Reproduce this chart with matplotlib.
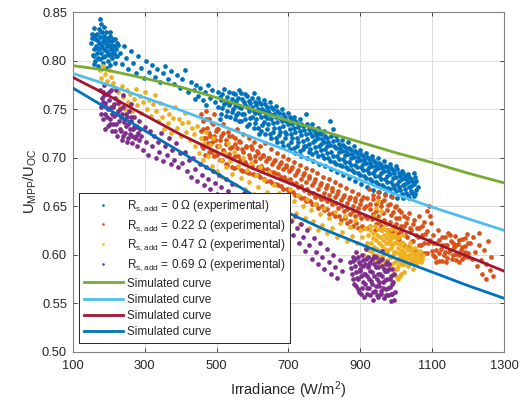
import matplotlib
matplotlib.use("Agg")
import matplotlib.pyplot as plt

plt.rcParams['font.family'] = ['Liberation Sans', 'DejaVu Sans']
plt.rcParams['mathtext.default'] = 'regular'

# ---------------- data ----------------
curve_x = [100, 200, 300, 400, 500, 600, 700, 800, 900, 1000, 1100, 1200, 1300]
sim_green = [0.795, 0.790, 0.782, 0.773, 0.762, 0.750, 0.738, 0.727, 0.716, 0.705, 0.695, 0.684, 0.674]
sim_lightblue = [0.787, 0.775, 0.762, 0.749, 0.735, 0.721, 0.707, 0.692, 0.677, 0.662, 0.649, 0.637, 0.625]
sim_red = [0.783, 0.764, 0.744, 0.724, 0.706, 0.689, 0.674, 0.659, 0.643, 0.628, 0.613, 0.598, 0.583]
sim_blue = [0.772, 0.750, 0.728, 0.706, 0.684, 0.662, 0.643, 0.626, 0.611, 0.596, 0.582, 0.568, 0.555]

exp_0 = [
    (152,0.818),(155,0.828),(156,0.806),(158,0.812),(160,0.834),(162,0.822),(163,0.800),(165,0.815),
    (167,0.828),(168,0.808),(170,0.820),(172,0.833),(173,0.812),(175,0.802),(176,0.843),(177,0.825),
    (179,0.816),(180,0.808),(182,0.830),(184,0.820),(185,0.798),(187,0.812),(188,0.826),(190,0.805),
    (192,0.818),(193,0.830),(195,0.810),(197,0.800),(198,0.822),(200,0.815),(202,0.806),(204,0.826),
    (205,0.796),(207,0.812),(209,0.820),(210,0.803),(212,0.815),(215,0.808),(217,0.822),(219,0.798),
    (221,0.812),(224,0.805),(226,0.816),(160,0.797),(170,0.795),(178,0.838),(188,0.835),(195,0.793),
    (154,0.823),(159,0.805),(163,0.827),(166,0.822),(169,0.813),(171,0.803),(174,0.818),(178,0.830),
    (181,0.814),(183,0.804),(186,0.822),(189,0.818),(191,0.811),(194,0.824),(196,0.815),(199,0.808),
    (201,0.820),(203,0.830),(206,0.816),(208,0.807),(211,0.822),(213,0.810),(216,0.815),(220,0.805),
    (223,0.818),
    (232,0.808),(238,0.797),(242,0.815),(248,0.803),(255,0.792),(262,0.810),(268,0.798),(275,0.787),
    (282,0.805),(290,0.793),(298,0.782),(305,0.800),(312,0.788),(320,0.796),(328,0.783),(335,0.792),
    (342,0.778),(350,0.787),(358,0.795),(366,0.781),(374,0.789),(382,0.776),(390,0.785),(398,0.772),
    (405,0.781),(413,0.790),(420,0.768),(428,0.778),(436,0.770),(442,0.775),(448,0.764),(455,0.772),
    (462,0.760),(468,0.768),(475,0.775),(482,0.762),(488,0.770),(495,0.757),(440,0.761),(470,0.754),
    (505,0.768),(505,0.752),(512,0.760),(512,0.745),(520,0.771),(520,0.755),(530,0.748),(530,0.763),
    (538,0.756),(538,0.742),(546,0.767),(546,0.750),(555,0.744),(555,0.759),(563,0.752),(563,0.738),
    (563,0.770),(572,0.761),(572,0.745),(580,0.740),(580,0.754),(580,0.766),(590,0.748),(590,0.735),
    (590,0.759),(598,0.762),(598,0.742),(598,0.752),(607,0.736),(607,0.757),(607,0.746),(615,0.750),
    (615,0.731),(615,0.762),(623,0.742),(623,0.755),(623,0.728),(632,0.748),(632,0.737),(632,0.760),
    (640,0.730),(640,0.752),(640,0.741),(648,0.745),(648,0.724),(648,0.757),(657,0.736),(657,0.750),
    (657,0.727),(665,0.742),(665,0.720),(665,0.753),(673,0.731),(673,0.746),(673,0.723),(682,0.738),
    (682,0.716),(682,0.750),(690,0.727),(690,0.742),(690,0.720),(698,0.735),(698,0.713),(698,0.746),
    (707,0.724),(707,0.739),(707,0.716),(715,0.731),(715,0.710),(715,0.742),(723,0.720),(723,0.736),
    (723,0.712),(732,0.728),(732,0.707),(732,0.740),(740,0.717),(740,0.733),(740,0.709),(748,0.724),
    (748,0.745),(748,0.712),(757,0.714),(757,0.730),(757,0.706),(765,0.722),(765,0.704),(765,0.735),
    (773,0.711),(773,0.727),(773,0.718),(782,0.720),(782,0.702),(782,0.731),(790,0.708),(790,0.724),
    (790,0.714),(798,0.716),(798,0.700),(798,0.728),(807,0.705),(807,0.720),(807,0.712),(815,0.713),
    (815,0.697),(815,0.738),(823,0.702),(823,0.717),(823,0.730),(832,0.710),(832,0.694),(832,0.722),
    (840,0.699),(840,0.714),(840,0.706),(848,0.707),(848,0.691),(848,0.718),(857,0.696),(857,0.711),
    (857,0.703),(865,0.704),(865,0.688),(865,0.716),(873,0.693),(873,0.708),(873,0.700),(882,0.701),
    (882,0.685),(882,0.712),(890,0.690),(890,0.705),(890,0.697),(898,0.698),(898,0.682),(898,0.708),
    (907,0.687),(907,0.702),(907,0.694),(915,0.695),(915,0.679),(915,0.705),(923,0.684),(923,0.699),
    (923,0.690),(932,0.692),(932,0.676),(932,0.702),(940,0.681),(940,0.696),(940,0.687),(948,0.689),
    (948,0.673),(948,0.700),(957,0.678),(957,0.693),(957,0.684),(965,0.686),(965,0.670),(965,0.697),
    (973,0.675),(973,0.690),(973,0.681),(982,0.683),(982,0.668),(982,0.694),(990,0.672),(990,0.687),
    (990,0.679),(998,0.680),(998,0.666),(998,0.691),(1007,0.670),(1007,0.684),(1007,0.676),(1015,0.678),
    (1015,0.663),(1015,0.686),(1023,0.668),(1023,0.681),(1023,0.673),(1032,0.675),(1032,0.662),
    (1032,0.683),(1040,0.666),(1040,0.678),(1040,0.671),(1048,0.673),(1048,0.661),(1048,0.684),
    (1055,0.667),(1055,0.676),(1060,0.670),
    (509,0.740),(509,0.763),(516,0.751),(516,0.766),(525,0.743),(525,0.758),(534,0.754),(534,0.768),
    (542,0.747),(542,0.761),(551,0.740),(551,0.753),(551,0.766),(559,0.746),(559,0.762),(568,0.738),
    (568,0.751),(568,0.767),(576,0.745),(576,0.758),(585,0.733),(585,0.752),(585,0.764),(594,0.741),
    (594,0.756),(603,0.731),(603,0.748),(603,0.767),(611,0.740),(611,0.754),(619,0.725),(619,0.746),
    (619,0.758),(627,0.734),(627,0.750),(636,0.725),(636,0.743),(636,0.755),(644,0.735),(644,0.748),
    (652,0.720),(652,0.740),(652,0.752),(661,0.731),(661,0.745),(669,0.716),(669,0.737),(669,0.748),
    (677,0.727),(677,0.741),(686,0.712),(686,0.733),(686,0.745),(694,0.724),(694,0.738),(703,0.709),
    (703,0.730),(703,0.742),(711,0.720),(711,0.735),(719,0.705),(719,0.727),(719,0.738),(727,0.716),
    (727,0.732),(736,0.702),(736,0.723),(736,0.735),(744,0.712),(744,0.729),(752,0.700),(752,0.719),
    (752,0.735),(761,0.709),(761,0.726),(769,0.697),(769,0.716),(769,0.730),(777,0.706),(777,0.723),
    (786,0.694),(786,0.712),(786,0.726),(794,0.703),(794,0.719),(802,0.691),(802,0.709),(802,0.722),
    (811,0.700),(811,0.716),(819,0.688),(819,0.706),(819,0.722),(827,0.696),(827,0.712),(836,0.685),
    (836,0.702),(836,0.718),(844,0.693),(844,0.710),(852,0.682),(852,0.699),(852,0.713),(861,0.690),
    (861,0.707),(869,0.679),(869,0.696),(869,0.710),(877,0.687),(877,0.704),(886,0.676),(886,0.693),
    (886,0.707),(894,0.684),(894,0.701),(902,0.673),(902,0.690),(902,0.704),(911,0.681),(911,0.698),
    (919,0.670),(919,0.687),(919,0.701),(927,0.678),(927,0.695),(936,0.667),(936,0.684),(936,0.698),
    (944,0.675),(944,0.692),(952,0.665),(952,0.681),(952,0.695),(961,0.672),(961,0.689),(969,0.663),
    (969,0.678),(969,0.692),(977,0.669),(977,0.686),(986,0.661),(986,0.675),(986,0.689),(994,0.669),
    (994,0.684),(1003,0.659),(1003,0.673),(1003,0.688),(1011,0.667),(1011,0.681),(1019,0.658),
    (1019,0.672),(1019,0.684),(1027,0.664),(1027,0.678),(1036,0.658),(1036,0.670),(1036,0.680),
    (1044,0.664),(1044,0.676),(1052,0.663),(1052,0.680),
]

exp_022 = [
    (456,0.745),(458,0.728),(460,0.712),(463,0.738),(466,0.720),(468,0.703),(471,0.748),(474,0.731),
    (477,0.715),(480,0.740),(483,0.722),(486,0.706),(489,0.735),(492,0.745),(495,0.718),(498,0.728),
    (501,0.703),(505,0.730),(508,0.712),(512,0.722),(515,0.698),(519,0.735),(522,0.706),(526,0.718),
    (530,0.693),(533,0.727),(537,0.710),(541,0.700),(544,0.722),(548,0.689),(552,0.714),(556,0.730),
    (559,0.702),(563,0.717),(567,0.687),(570,0.709),(574,0.724),(578,0.696),(582,0.711),(586,0.685),
    (589,0.720),(593,0.700),(597,0.712),(600,0.683),(604,0.716),(608,0.697),(612,0.707),(616,0.682),
    (620,0.712),(624,0.692),(628,0.703),(632,0.678),(636,0.715),(640,0.688),(644,0.700),(648,0.676),
    (652,0.709),(656,0.685),(660,0.697),(664,0.673),(668,0.705),(672,0.683),(676,0.694),(680,0.671),
    (684,0.702),(688,0.680),(692,0.690),(696,0.668),(700,0.699),(704,0.678),(708,0.688),(712,0.665),
    (716,0.696),(720,0.674),(724,0.685),(728,0.661),(732,0.693),(736,0.671),(740,0.682),(744,0.658),
    (748,0.689),(752,0.668),(756,0.679),(760,0.655),(764,0.687),(768,0.664),(772,0.675),(776,0.652),
    (780,0.684),(784,0.661),(788,0.672),(792,0.650),(796,0.680),(800,0.658),(804,0.669),(808,0.647),
    (812,0.678),(816,0.656),(820,0.666),(824,0.643),(828,0.675),(832,0.653),(836,0.663),(840,0.640),
    (844,0.672),(848,0.650),(852,0.660),(856,0.638),(860,0.669),(864,0.647),(868,0.657),(872,0.635),
    (876,0.666),(880,0.645),(884,0.655),(888,0.633),(892,0.663),(896,0.642),(900,0.652),(904,0.630),
    (908,0.660),(912,0.640),(916,0.650),(920,0.628),(924,0.668),(928,0.647),(932,0.637),(936,0.657),
    (940,0.626),(944,0.645),(948,0.665),(952,0.634),(956,0.654),(960,0.625),(964,0.643),(968,0.662),
    (972,0.632),(976,0.651),(980,0.623),(984,0.641),(988,0.660),(992,0.630),(996,0.649),(1000,0.638),
    (1004,0.622),(1008,0.646),(1012,0.630),(1016,0.612),(1020,0.640),(1024,0.620),(1028,0.633),
    (1032,0.608),(1036,0.643),(1040,0.625),(1044,0.614),(1048,0.636),(1052,0.605),(1056,0.628),
    (1060,0.618),(1064,0.640),(1068,0.610),(1072,0.630),(1076,0.602),(1080,0.621),(1084,0.645),
    (1088,0.612),(1092,0.650),(1095,0.633),(1098,0.604),(1103,0.620),(1107,0.598),(1111,0.612),
    (1115,0.625),(1119,0.594),(1123,0.606),(1127,0.618),(1131,0.600),(1135,0.610),(1139,0.592),
    (1143,0.622),(1147,0.603),(1151,0.614),(1155,0.596),(1159,0.608),(1163,0.619),(1167,0.601),
    (1171,0.611),(1175,0.593),(1179,0.605),(1183,0.616),(1187,0.598),(1191,0.609),(1195,0.621),
    (1199,0.602),(1204,0.612),(1209,0.596),(1214,0.618),(1219,0.603),(1224,0.588),(1229,0.610),
    (1234,0.595),(1239,0.580),(1244,0.605),(1249,0.590),(1254,0.614),(1259,0.584),(1264,0.598),
    (1268,0.578),(1230,0.622),(1250,0.575),
    (462,0.710),(462,0.730),(470,0.720),(470,0.740),(478,0.706),(478,0.726),(486,0.716),(486,0.736),
    (494,0.702),(494,0.722),(502,0.712),(502,0.730),(510,0.698),(510,0.718),(518,0.708),(518,0.726),
    (526,0.694),(526,0.714),(534,0.704),(534,0.722),(542,0.690),(542,0.711),(550,0.702),(550,0.720),
    (558,0.690),(558,0.710),(566,0.698),(566,0.716),(574,0.686),(574,0.706),(582,0.694),(582,0.712),
    (590,0.684),(590,0.703),(598,0.692),(598,0.709),(606,0.682),(606,0.702),(614,0.690),(614,0.705),
    (622,0.680),(622,0.700),(630,0.688),(630,0.702),(638,0.676),(638,0.697),(646,0.686),(646,0.700),
    (654,0.674),(654,0.694),(662,0.684),(662,0.698),(670,0.672),(670,0.690),(678,0.680),(678,0.696),
    (686,0.668),(686,0.688),(694,0.677),(694,0.693),(702,0.665),(702,0.686),(710,0.674),(710,0.690),
    (718,0.662),(718,0.682),(726,0.670),(726,0.687),(734,0.658),(734,0.678),(742,0.667),(742,0.684),
    (750,0.655),(750,0.675),(758,0.664),(758,0.681),(766,0.652),(766,0.672),(774,0.660),(774,0.678),
    (782,0.648),(782,0.668),(790,0.657),(790,0.674),(798,0.646),(798,0.664),(806,0.655),(806,0.672),
    (814,0.642),(814,0.662),(822,0.652),(822,0.669),(830,0.640),(830,0.660),(838,0.648),(838,0.666),
    (846,0.636),(846,0.656),(854,0.645),(854,0.662),(862,0.633),(862,0.653),(870,0.642),(870,0.660),
    (878,0.630),(878,0.650),(886,0.640),(886,0.658),(894,0.628),(894,0.648),(902,0.638),(902,0.656),
    (910,0.628),(910,0.648),(918,0.638),(918,0.658),(926,0.630),(926,0.652),(934,0.642),(934,0.662),
    (942,0.632),(942,0.652),(950,0.640),(950,0.660),(958,0.630),(958,0.650),(966,0.636),(966,0.656),
    (974,0.626),(974,0.646),(982,0.634),(982,0.652),(990,0.624),(990,0.644),(998,0.632),(998,0.650),
    (1006,0.616),(1006,0.638),(1014,0.624),(1014,0.644),(1022,0.610),(1022,0.630),(1030,0.618),
    (1030,0.638),(1038,0.606),(1038,0.628),(1046,0.614),(1046,0.632),(1054,0.600),(1054,0.620),
    (1062,0.610),(1062,0.628),(1070,0.600),(1070,0.620),(1078,0.612),(1078,0.634),(1086,0.602),
    (1086,0.624),(1094,0.615),(1094,0.640),(1102,0.600),(1102,0.612),(1110,0.592),(1110,0.605),
    (1118,0.602),(1118,0.615),(1126,0.594),(1126,0.610),(1134,0.603),(1134,0.618),(1142,0.597),
    (1142,0.610),(1150,0.605),(1150,0.620),(1158,0.600),(1158,0.612),(1166,0.595),(1166,0.610),
    (1174,0.600),(1174,0.615),(1182,0.596),(1182,0.608),(1190,0.603),(1190,0.617),(1198,0.598),
    (1198,0.612),
]

exp_047 = [
    (175,0.790),(180,0.782),(185,0.795),(190,0.786),(196,0.779),(201,0.791),(206,0.783),(212,0.777),
    (218,0.772),(222,0.760),(226,0.768),(231,0.752),(236,0.774),(240,0.763),(245,0.750),(250,0.770),
    (255,0.758),(260,0.766),(265,0.748),(270,0.761),(275,0.771),(280,0.754),(286,0.764),(291,0.746),
    (296,0.758),(302,0.768),(307,0.750),(312,0.760),(318,0.743),(323,0.755),(328,0.765),(333,0.748),
    (338,0.738),(343,0.756),(348,0.742),(353,0.730),(358,0.750),(364,0.736),(369,0.745),(374,0.726),
    (379,0.741),(384,0.752),(390,0.731),(395,0.740),(400,0.722),(405,0.736),(411,0.746),(416,0.727),
    (421,0.737),(426,0.718),(431,0.731),(436,0.724),(441,0.712),(446,0.733),(451,0.705),(456,0.720),
    (461,0.698),(466,0.715),(471,0.727),(476,0.702),(481,0.713),(486,0.692),(491,0.720),(496,0.707),
    (501,0.686),(506,0.712),(511,0.698),(516,0.680),(521,0.705),(526,0.690),(531,0.715),(537,0.697),
    (543,0.683),(549,0.706),(555,0.672),(561,0.692),(567,0.679),(573,0.700),(579,0.668),(585,0.687),
    (591,0.675),(597,0.695),(603,0.663),(609,0.682),(615,0.670),(621,0.690),(627,0.660),(633,0.677),
    (639,0.665),(645,0.685),(655,0.658),(661,0.672),(667,0.648),(673,0.664),(679,0.653),(685,0.640),
    (691,0.660),(697,0.646),(703,0.668),(709,0.636),(715,0.655),(721,0.643),(727,0.662),(733,0.632),
    (739,0.650),(745,0.638),(751,0.657),(757,0.628),(763,0.646),(769,0.635),(775,0.652),(781,0.625),
    (787,0.642),(793,0.631),(800,0.648),(807,0.622),(814,0.638),(821,0.628),(828,0.644),(835,0.618),
    (842,0.633),(849,0.623),(856,0.640),(863,0.614),(870,0.629),(877,0.619),(884,0.636),(891,0.612),
    (898,0.626),(905,0.618),(912,0.628),(915,0.607),(920,0.620),(922,0.598),(928,0.630),(930,0.612),
    (933,0.603),(936,0.622),(938,0.640),(940,0.594),(942,0.615),(944,0.648),(946,0.606),(948,0.627),
    (950,0.655),(952,0.598),(953,0.636),(955,0.618),(957,0.589),(958,0.645),(960,0.609),(962,0.628),
    (964,0.600),(966,0.620),(968,0.583),(970,0.612),(972,0.632),(974,0.595),(976,0.622),(978,0.605),
    (980,0.588),(982,0.615),(984,0.627),(986,0.598),(988,0.610),(990,0.580),(992,0.620),(994,0.603),
    (996,0.592),(998,0.613),(1000,0.625),(1002,0.585),(1004,0.607),(1006,0.597),(1008,0.618),
    (1010,0.578),(1012,0.600),(1014,0.610),(1016,0.590),(1018,0.620),(1020,0.603),(1022,0.582),
    (1025,0.595),(1028,0.608),(1031,0.588),(1034,0.600),(1037,0.612),(1040,0.593),(1043,0.603),
    (1046,0.585),(1049,0.597),(1052,0.607),(1055,0.590),(1058,0.600),(1062,0.594),(1066,0.604),
    (1070,0.596),(1074,0.600),
    (910,0.600),(918,0.612),(924,0.605),(926,0.625),(932,0.596),(934,0.617),(939,0.608),(941,0.630),
    (945,0.600),(947,0.620),(951,0.612),(954,0.592),(956,0.604),(959,0.625),(961,0.598),(963,0.615),
    (967,0.606),(969,0.592),(971,0.625),(973,0.617),(975,0.603),(977,0.585),(979,0.612),(981,0.598),
    (983,0.620),(985,0.607),(987,0.590),(989,0.618),(991,0.600),(993,0.612),(995,0.585),(997,0.603),
    (999,0.617),(1001,0.595),(1003,0.612),(1005,0.588),(1007,0.602),(1009,0.612),(1011,0.592),
    (1013,0.580),(1015,0.605),(1017,0.597),(1019,0.612),(1021,0.590),(1023,0.600),(1026,0.608),
    (1029,0.596),(1032,0.605),(1035,0.590),(1038,0.598),(1041,0.607),(1044,0.595),(1047,0.602),
    (1050,0.592),(1053,0.600),(1056,0.595),(1060,0.603),(1064,0.598),(1068,0.592),(998,0.578),
    (1005,0.575),
]

exp_069 = [
    (176,0.770),(178,0.752),(181,0.762),(184,0.740),(186,0.775),(189,0.756),(191,0.745),(194,0.766),
    (197,0.733),(199,0.750),(202,0.760),(205,0.740),(207,0.770),(210,0.728),(212,0.752),(215,0.743),
    (218,0.762),(220,0.735),(223,0.722),(226,0.748),(228,0.757),(231,0.730),(234,0.742),(236,0.718),
    (239,0.752),(242,0.737),(245,0.726),(247,0.745),(250,0.716),(253,0.735),(256,0.748),(258,0.724),
    (261,0.738),(264,0.715),(267,0.730),(270,0.742),(273,0.720),(276,0.733),(279,0.712),(282,0.726),
    (285,0.738),(190,0.730),(220,0.770),(240,0.765),(262,0.755),
    (180,0.745),(183,0.768),(185,0.757),(188,0.765),(193,0.752),(196,0.742),(200,0.768),(203,0.735),
    (206,0.752),(209,0.745),(213,0.735),(216,0.755),(219,0.728),(222,0.745),(225,0.756),(229,0.738),
    (232,0.750),(235,0.728),(238,0.745),(241,0.722),(244,0.740),(248,0.733),(251,0.742),(255,0.720),
    (259,0.730),(263,0.742),(266,0.722),(271,0.732),(275,0.722),(280,0.732),(284,0.718),(288,0.730),
    (290,0.722),(295,0.708),(300,0.732),
    (305,0.716),(310,0.703),(315,0.728),(320,0.712),(326,0.722),(331,0.700),(336,0.716),(341,0.706),
    (346,0.726),(352,0.697),(357,0.712),(362,0.703),(367,0.720),(372,0.694),(377,0.708),(382,0.698),
    (388,0.715),(393,0.690),(398,0.705),(405,0.695),(411,0.706),(417,0.686),(423,0.698),(429,0.680),
    (435,0.700),(441,0.688),(447,0.676),(453,0.694),(459,0.682),(465,0.672),(471,0.690),(477,0.678),
    (483,0.668),(489,0.686),(495,0.674),(501,0.663),(507,0.682),(513,0.670),(519,0.660),(525,0.678),
    (531,0.666),(537,0.656),(543,0.673),(549,0.662),(560,0.652),(575,0.664),(590,0.645),(605,0.656),
    (620,0.640),(640,0.650),(660,0.632),(680,0.642),(700,0.625),(708,0.635),(713,0.620),(718,0.640),
    (723,0.628),(728,0.612),(734,0.632),(740,0.618),(746,0.604),(752,0.625),(758,0.610),(764,0.596),
    (770,0.617),(776,0.603),(782,0.590),(788,0.612),(794,0.598),(800,0.585),(806,0.606),(812,0.592),
    (818,0.580),(824,0.600),(830,0.587),(836,0.576),(842,0.595),(848,0.583),(872,0.592),(876,0.580),
    (879,0.598),(882,0.570),(885,0.588),(888,0.603),(890,0.576),(893,0.565),(896,0.593),(898,0.583),
    (901,0.560),(903,0.600),(906,0.572),(908,0.588),(911,0.556),(913,0.580),(916,0.596),(918,0.566),
    (921,0.587),(923,0.575),(926,0.558),(928,0.593),(931,0.570),(933,0.582),(936,0.553),(938,0.599),
    (940,0.563),(943,0.587),(945,0.575),(948,0.556),(950,0.592),(953,0.568),(955,0.580),(958,0.560),
    (960,0.588),(963,0.572),(965,0.555),(968,0.583),(970,0.565),(973,0.593),(975,0.575),(978,0.558),
    (980,0.585),(983,0.567),(986,0.578),(988,0.560),(991,0.572),(994,0.553),(985,0.552),(960,0.604),
    (915,0.606),
    (874,0.586),(878,0.594),(880,0.575),(884,0.596),(887,0.582),(889,0.568),(892,0.598),(894,0.575),
    (897,0.562),(899,0.590),(902,0.578),(904,0.566),(907,0.595),(909,0.580),(912,0.570),(914,0.590),
    (917,0.560),(919,0.578),(922,0.598),(924,0.566),(927,0.583),(929,0.573),(932,0.596),(934,0.562),
    (937,0.578),(939,0.590),(942,0.568),(944,0.598),(946,0.558),(949,0.580),(951,0.572),(954,0.595),
    (956,0.563),(959,0.578),(961,0.596),(964,0.566),(966,0.585),(969,0.574),(971,0.558),(974,0.583),
    (976,0.566),(979,0.590),(981,0.575),(984,0.560),(987,0.585),(989,0.570),(992,0.580),(995,0.562),
    (900,0.585),(925,0.590),(948,0.587),(972,0.590),
]

exp_labels = [
    r'R$_{s,add}$ = 0 Ω (experimental)',
    r'R$_{s,add}$ = 0.22 Ω (experimental)',
    r'R$_{s,add}$ = 0.47 Ω (experimental)',
    r'R$_{s,add}$ = 0.69 Ω (experimental)',
]
sim_label = 'Simulated curve'

x_ticks = [100, 300, 500, 700, 900, 1100, 1300]
y_ticks = [0.50, 0.55, 0.60, 0.65, 0.70, 0.75, 0.80, 0.85]

# ---------------- styling ----------------
exp_colors = ['#0072BD', '#D95319', '#EDB120', '#7E2F8E']
sim_colors = ['#77AC30', '#4DBEEE', '#A2142F', '#0072BD']
axis_color = '#262626'

fig = plt.figure(figsize=(5.24, 4.03), dpi=100)
ax = fig.add_axes([0.1387, 0.1273, 0.8237, 0.8422])

handles = []
for pts, c, lab in zip([exp_0, exp_022, exp_047, exp_069], exp_colors, exp_labels):
    xs = [p[0] for p in pts]
    ys = [p[1] for p in pts]
    h, = ax.plot(xs, ys, linestyle='none', marker='o', ms=3.4, mec='none', mfc=c, label=lab, zorder=2)
    handles.append(h)

for ys, c in zip([sim_green, sim_lightblue, sim_red, sim_blue], sim_colors):
    h, = ax.plot(curve_x, ys, color=c, lw=2.0, label=sim_label, zorder=3)
    handles.append(h)

ax.set_xlim(100, 1300)
ax.set_ylim(0.50, 0.85)
ax.set_xticks(x_ticks)
ax.set_yticks(y_ticks)
ax.set_xticklabels([str(t) for t in x_ticks])
ax.set_yticklabels([f'{t:.2f}' for t in y_ticks])
ax.grid(True, color='#dcdcdc', lw=0.7, zorder=0)
ax.set_axisbelow(True)
ax.tick_params(direction='in', length=3, width=0.6, colors=axis_color, labelsize=9.3,
               top=True, right=True)
ax.tick_params(axis='x', pad=6)
ax.tick_params(axis='y', pad=4)
for sp in ax.spines.values():
    sp.set_color('#808080')
    sp.set_linewidth(0.8)

ax.set_xlabel('Irradiance (W/m$^2$)', fontsize=10.5, color=axis_color, labelpad=5)
ax.set_ylabel('U$_{MPP}$/U$_{OC}$', fontsize=10.5, color=axis_color, labelpad=2)

leg = ax.legend(handles=handles, loc='lower left', bbox_to_anchor=(0.0146, 0.0256),
                borderaxespad=0, fontsize=8.5, handlelength=3.3, handletextpad=0.35,
                labelspacing=0.36, borderpad=0.4, fancybox=False, framealpha=1,
                edgecolor='#262626', markerscale=0.55)
leg.get_frame().set_linewidth(0.7)
leg.set_zorder(5)
for t in leg.get_texts():
    t.set_color(axis_color)

fig.savefig('out.png', dpi=100)
